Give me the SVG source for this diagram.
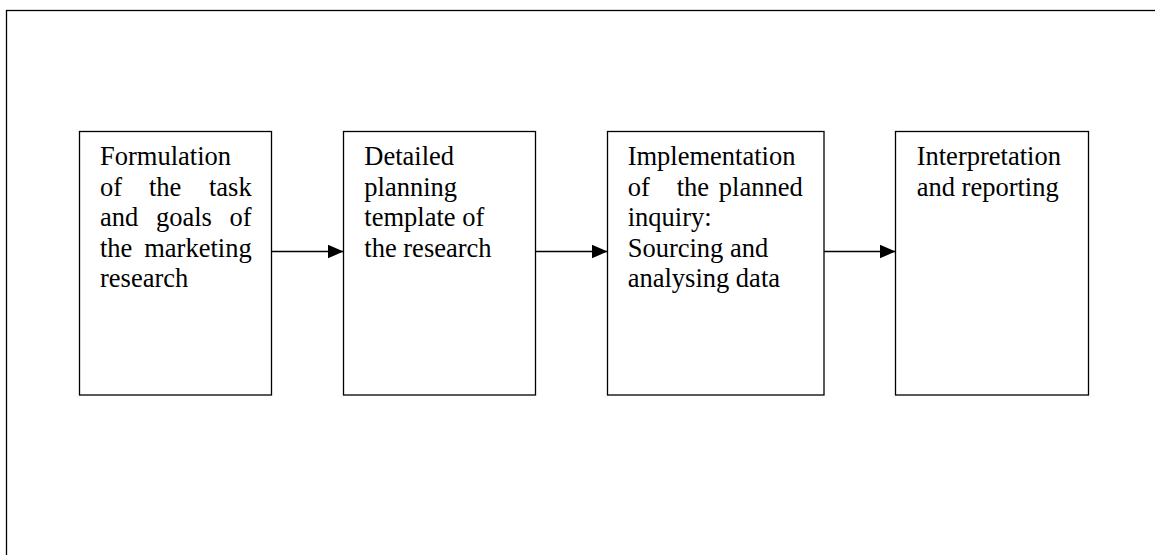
<svg xmlns="http://www.w3.org/2000/svg" width="1155" height="555" viewBox="0 0 1155 555">
<style>
.box{fill:#fff;stroke:#000;stroke-width:1.3}
.t{font-family:"Liberation Serif","Times New Roman",serif;font-size:26.5px;fill:#000}
.e{text-anchor:end}
.c{stroke:#000;stroke-width:1.5;fill:none}
</style>
<defs>
<marker id="ah" markerWidth="16" markerHeight="14" refX="16" refY="7" orient="auto" markerUnits="userSpaceOnUse">
<path d="M0,0 L16,7 L0,14 Z" fill="#000"/>
</marker>
</defs>
<rect x="0" y="0" width="1155" height="555" fill="#fff"/>
<rect id="frame" x="6.5" y="10.5" width="1200" height="600" fill="none" stroke="#000" stroke-width="1.3"/>
<g id="node1">
<rect class="box" x="79.5" y="131.5" width="192" height="263.5"/>
<text class="t" x="100" y="165">Formulation</text>
<text class="t" x="100" y="195.5">of</text><text class="t" x="149" y="195.5">the</text><text class="t e" x="251.7" y="195.5">task</text>
<text class="t" x="100" y="226">and</text><text class="t" x="156" y="226">goals</text><text class="t e" x="251.7" y="226">of</text>
<text class="t" x="100" y="256.5">the</text><text class="t e" x="251.7" y="256.5">marketing</text>
<text class="t" x="100" y="287">research</text>
</g>
<g id="node2">
<rect class="box" x="343.5" y="131.5" width="192" height="263.5"/>
<text class="t" x="364.3" y="165">Detailed</text>
<text class="t" x="364.3" y="195.5">planning</text>
<text class="t" x="364.3" y="226">template of</text>
<text class="t" x="364.3" y="256.5">the research</text>
</g>
<g id="node3">
<rect class="box" x="607.5" y="131.5" width="216.5" height="263.5"/>
<text class="t" x="627.7" y="165">Implementation</text>
<text class="t" x="627.7" y="195.5">of</text><text class="t" x="676.7" y="195.5">the</text><text class="t e" x="802.7" y="195.5">planned</text>
<text class="t" x="627.7" y="226">inquiry:</text>
<text class="t" x="627.7" y="256.5">Sourcing and</text>
<text class="t" x="627.7" y="287">analysing data</text>
</g>
<g id="node4">
<rect class="box" x="895.5" y="131.5" width="193" height="263.5"/>
<text class="t" x="916.7" y="165">Interpretation</text>
<text class="t" x="916.7" y="195.5">and reporting</text>
</g>
<g id="connectors">
<line class="c" x1="271.5" y1="251.5" x2="343.5" y2="251.5" marker-end="url(#ah)"/>
<line class="c" x1="535.5" y1="251.5" x2="607.5" y2="251.5" marker-end="url(#ah)"/>
<line class="c" x1="824" y1="251.5" x2="895.5" y2="251.5" marker-end="url(#ah)"/>
</g>
</svg>
